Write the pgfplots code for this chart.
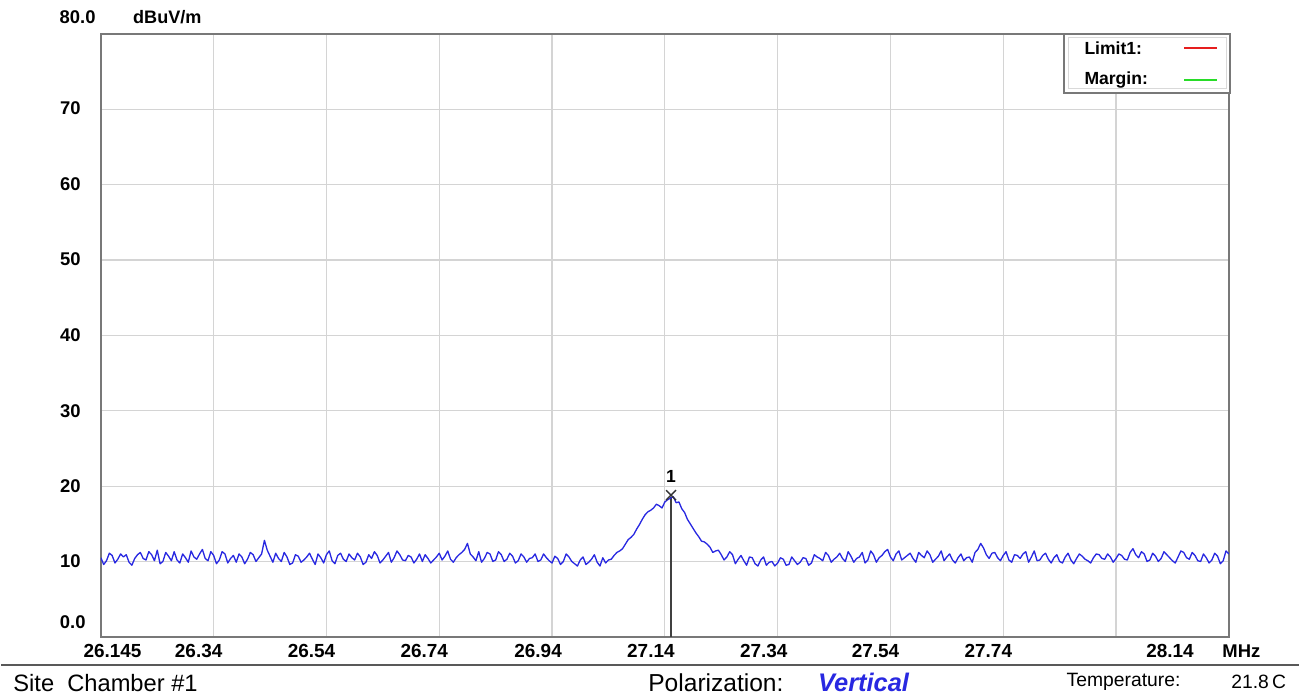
\documentclass[border=0pt]{standalone}
\usepackage{pgfplots}
\pgfplotsset{compat=1.18}
\usepackage{pgfplotstable}
\usepackage{fontspec}
\setmainfont{Liberation Sans}
\definecolor{trace}{RGB}{40,40,225}
\definecolor{frame}{RGB}{120,120,120}
\definecolor{gridc}{RGB}{212,212,212}
\definecolor{limred}{RGB}{230,30,30}
\definecolor{margreen}{RGB}{40,220,40}
\pgfplotstableread{
x y
26.145 10.5
26.150 9.6
26.155 10.1
26.160 11.1
26.165 10.8
26.170 9.8
26.175 10.3
26.180 11.0
26.185 10.6
26.190 10.9
26.195 9.9
26.200 9.5
26.205 10.4
26.210 10.9
26.215 11.2
26.220 10.4
26.225 10.2
26.230 11.3
26.235 10.9
26.240 10.1
26.245 11.5
26.250 9.7
26.255 10.0
26.260 11.2
26.265 10.7
26.270 10.1
26.275 11.3
26.280 10.2
26.285 9.8
26.290 11.0
26.295 10.5
26.300 9.9
26.305 11.4
26.310 10.6
26.315 10.3
26.320 11.0
26.325 11.6
26.330 10.4
26.335 10.1
26.340 11.3
26.345 10.8
26.350 9.7
26.355 10.2
26.360 11.3
26.365 11.0
26.370 9.8
26.375 10.4
26.380 10.8
26.385 9.9
26.390 11.0
26.395 10.6
26.400 9.7
26.405 10.3
26.410 11.2
26.415 10.9
26.420 10.0
26.425 10.5
26.430 11.0
26.435 12.8
26.440 11.5
26.445 10.7
26.450 9.9
26.455 11.1
26.460 10.4
26.465 10.0
26.470 11.2
26.475 10.6
26.480 9.6
26.485 9.8
26.490 10.9
26.495 10.7
26.500 9.9
26.505 10.2
26.510 10.6
26.515 11.1
26.520 10.3
26.525 9.6
26.530 11.0
26.535 10.5
26.540 9.8
26.545 10.9
26.550 11.4
26.555 10.1
26.560 9.7
26.565 10.8
26.570 11.1
26.575 10.3
26.580 10.0
26.585 11.0
26.590 10.5
26.595 10.2
26.600 11.1
26.605 10.6
26.610 9.6
26.615 9.9
26.620 10.9
26.625 10.4
26.630 11.3
26.635 10.8
26.640 9.8
26.645 10.2
26.650 10.7
26.655 11.2
26.660 9.9
26.665 10.5
26.670 11.4
26.675 10.9
26.680 10.2
26.685 10.1
26.690 10.8
26.695 10.6
26.700 9.8
26.705 10.3
26.710 11.0
26.715 10.0
26.720 10.9
26.725 10.4
26.730 9.8
26.735 10.2
26.740 10.6
26.745 11.1
26.750 10.2
26.755 10.7
26.760 11.4
26.765 10.3
26.770 9.9
26.775 10.5
26.780 10.9
26.785 11.2
26.790 11.6
26.795 12.4
26.800 11.0
26.805 10.6
26.810 10.1
26.815 11.3
26.820 9.9
26.825 10.4
26.830 11.2
26.835 11.0
26.840 10.0
26.845 10.2
26.850 11.3
26.855 10.9
26.860 10.0
26.865 10.3
26.870 11.1
26.875 10.7
26.880 9.8
26.885 10.1
26.890 11.0
26.895 10.6
26.900 9.9
26.905 10.4
26.910 10.5
26.915 11.0
26.920 10.0
26.925 10.2
26.930 11.0
26.935 10.5
26.940 10.1
26.945 9.8
26.950 10.7
26.955 10.4
26.960 9.6
26.965 10.0
26.970 11.0
26.975 10.6
26.980 10.0
26.985 9.7
26.990 9.4
26.995 10.2
27.000 10.6
27.005 9.6
27.010 9.9
27.015 10.3
27.020 10.9
27.025 9.9
27.030 9.4
27.035 10.5
27.040 9.8
27.045 10.2
27.050 10.3
27.055 10.8
27.060 11.2
27.065 11.4
27.070 11.7
27.075 12.3
27.080 12.9
27.085 13.2
27.090 13.6
27.095 14.3
27.100 14.9
27.105 15.6
27.110 16.2
27.115 16.6
27.120 16.8
27.125 17.1
27.130 17.6
27.135 17.4
27.140 17.1
27.145 17.9
27.150 18.2
27.155 18.4
27.160 18.6
27.165 17.8
27.170 17.9
27.175 17.0
27.180 16.5
27.185 15.6
27.190 15.0
27.195 14.4
27.200 13.8
27.205 13.3
27.210 12.7
27.215 12.6
27.220 12.3
27.225 11.9
27.230 11.2
27.235 11.4
27.240 11.5
27.245 10.9
27.250 10.2
27.255 10.6
27.260 11.3
27.265 10.9
27.270 9.7
27.275 10.3
27.280 10.8
27.285 10.1
27.290 9.5
27.295 10.6
27.300 10.5
27.305 9.7
27.310 9.4
27.315 10.2
27.320 10.6
27.325 9.5
27.330 9.9
27.335 10.0
27.340 9.4
27.345 9.8
27.350 10.5
27.355 10.3
27.360 9.5
27.365 9.6
27.370 10.6
27.375 10.1
27.380 9.6
27.385 9.9
27.390 10.5
27.395 10.4
27.400 9.5
27.405 9.8
27.410 10.9
27.415 10.6
27.420 10.4
27.425 10.1
27.430 11.2
27.435 10.8
27.440 9.9
27.445 10.3
27.450 10.6
27.455 11.1
27.460 10.4
27.465 10.0
27.470 11.3
27.475 10.7
27.480 9.9
27.485 10.4
27.490 10.6
27.495 11.2
27.500 9.8
27.505 10.2
27.510 11.4
27.515 10.9
27.520 9.9
27.525 10.5
27.530 10.8
27.535 11.3
27.540 11.6
27.545 10.6
27.550 10.1
27.555 11.0
27.560 11.4
27.565 10.2
27.570 10.5
27.575 10.8
27.580 11.1
27.585 10.4
27.590 9.9
27.595 11.2
27.600 10.8
27.605 10.5
27.610 11.4
27.615 10.9
27.620 9.9
27.625 10.3
27.630 10.7
27.635 11.4
27.640 10.1
27.645 10.6
27.650 11.0
27.655 10.2
27.660 9.8
27.665 10.5
27.670 11.0
27.675 10.1
27.680 10.5
27.685 10.6
27.690 9.9
27.695 11.2
27.700 11.6
27.705 12.4
27.710 11.8
27.715 10.9
27.720 10.4
27.725 11.1
27.730 11.2
27.735 10.5
27.740 10.1
27.745 10.8
27.750 11.3
27.755 10.2
27.760 9.9
27.765 10.9
27.770 10.8
27.775 10.4
27.780 11.0
27.785 11.3
27.790 9.9
27.795 10.6
27.800 11.4
27.805 10.1
27.810 10.2
27.815 10.8
27.820 11.1
27.825 10.3
27.830 9.8
27.835 10.5
27.840 10.9
27.845 10.0
27.850 9.8
27.855 10.6
27.860 11.1
27.865 10.2
27.870 9.7
27.875 10.4
27.880 11.0
27.885 10.7
27.890 10.3
27.895 10.1
27.900 9.8
27.905 10.5
27.910 11.0
27.915 10.9
27.920 10.4
27.925 10.3
27.930 11.0
27.935 10.6
27.940 9.9
27.945 10.4
27.950 11.0
27.955 10.8
27.960 10.3
27.965 10.2
27.970 11.2
27.975 11.7
27.980 10.9
27.985 10.5
27.990 11.3
27.995 11.0
28.000 10.0
28.005 10.2
28.010 11.1
28.015 10.7
28.020 10.0
28.025 10.4
28.030 11.3
28.035 10.9
28.040 10.5
28.045 10.1
28.050 9.8
28.055 10.6
28.060 11.4
28.065 11.2
28.070 10.5
28.075 10.3
28.080 11.2
28.085 10.8
28.090 10.1
28.095 10.0
28.100 11.0
28.105 10.5
28.110 9.8
28.115 10.2
28.120 11.1
28.125 10.7
28.130 9.7
28.135 10.1
28.140 11.4
28.145 11.0
}\trace
\begin{document}
\begin{tikzpicture}
\path (-2cm,-1.2cm) rectangle (24cm,12.76cm);
\begin{axis}[
  at={(0,0)}, anchor=south west,
  scale only axis, width=22.6cm, height=12.08cm,
  xmin=26.145, xmax=28.145, ymin=0, ymax=80,
  xtick={26.345,26.545,26.745,26.945,27.145,27.345,27.545,27.745,27.945},
  ytick={10,20,30,40,50,60,70},
  xticklabels={}, yticklabels={},
  major tick length=0pt,
  grid=major,
  grid style={draw=gridc, line width=0.7pt},
  axis line style={draw=frame, line width=1.2pt},
  clip=true,
]
\addplot[draw=black!75, line width=1.1pt] coordinates {(27.156,0) (27.156,18.6)};
\addplot[trace, line width=0.75pt, line join=round] table[x=x,y=y] {\trace};
\addplot[only marks, mark=x, mark size=4pt, mark options={draw=black!80, line width=0.8pt}] coordinates {(27.156,18.8)};
\node[font=\fontsize{10}{12}\selectfont\bfseries, anchor=south] at (axis cs:27.156,19.6) {1};
\end{axis}
\begin{scope}[x=0.02cm, y=-0.02cm, shift={(-2cm,12.76cm)}]
% legend box
\draw[draw=frame, line width=1.1pt, fill=white] (1065,34) rectangle (1231,93);
\draw[draw=gray!30, line width=0.6pt] (1069,38) rectangle (1227,89);
\node[anchor=west, font=\fontsize{10}{12}\selectfont\bfseries] at (1079,48) {Limit1:};
\node[anchor=west, font=\fontsize{10}{12}\selectfont\bfseries] at (1079,80) {Margin:};
\draw[limred, line width=1.3pt] (1185,48) -- (1218,48);
\draw[margreen, line width=1.3pt] (1185,80) -- (1218,80);
% y labels
\begin{scope}[every node/.style={anchor=east, font=\fontsize{10.5}{12}\selectfont\bfseries, inner sep=0pt}]
\node at (95,17) {80.0};
\node at (80,108) {70};
\node at (80,184) {60};
\node at (80,260) {50};
\node at (80,336) {40};
\node at (80,412) {30};
\node at (80,487) {20};
\node at (80,562) {10};
\node at (85,623) {0.0};
\end{scope}
\node[anchor=west, font=\fontsize{10.3}{12}\selectfont\bfseries, inner sep=0pt] at (132,17) {dBuV/m};
% x labels
\begin{scope}[every node/.style={anchor=east, font=\fontsize{10.8}{12}\selectfont\bfseries, inner sep=0pt}]
\node at (141,652) {26.145};
\node at (222,652) {26.34};
\node at (335,652) {26.54};
\node at (448,652) {26.74};
\node at (562,652) {26.94};
\node at (675,652) {27.14};
\node at (788,652) {27.34};
\node at (900,652) {27.54};
\node at (1013,652) {27.74};
\node at (1195,652) {28.14};
\end{scope}
\node[anchor=west, font=\fontsize{10.5}{12}\selectfont\bfseries, inner sep=0pt] at (1223,652) {MHz};
% separator
\draw[draw=black!65, line width=1.2pt] (0,666) -- (1300,666);
% footer
\node[anchor=west, inner sep=0pt, font=\fontsize{13.5}{15}\selectfont] at (12,684) {Site\ \ Chamber \#1};
\node[anchor=west, inner sep=0pt, font=\fontsize{14}{16}\selectfont] at (648,684) {Polarization:};
\node[anchor=west, inner sep=0pt, font=\fontsize{14.5}{16}\selectfont\bfseries\itshape, text=trace] at (818,684) {Vertical};
\node[anchor=west, inner sep=0pt, font=\fontsize{11}{13}\selectfont] at (1067,683) {Temperature:};
\node[anchor=west, inner sep=0pt, font=\fontsize{11}{13}\selectfont] at (1232,683) {21.8\,C};
\end{scope}
\end{tikzpicture}
\end{document}
